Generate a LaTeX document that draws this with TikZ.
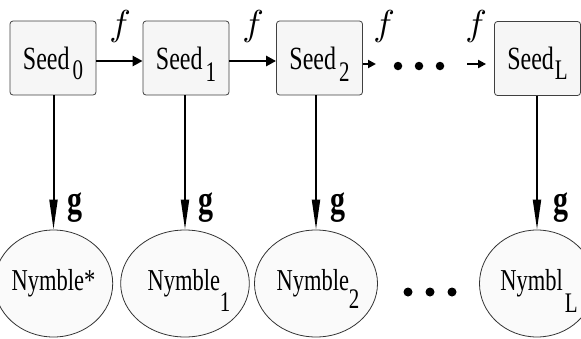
\documentclass[tikz,border=0pt]{standalone}
\usepackage{fontspec}
\setmainfont{Liberation Serif}
\usetikzlibrary{arrows.meta,shapes.geometric}
\newcommand\stt[1]{\scalebox{1}[1.35]{#1}}
\newcommand\sbs[2]{\smash{\raisebox{#1}{\fontsize{21}{21}\selectfont #2}}}
\tikzset{
  seedbox/.style={rectangle, rounded corners=3pt, draw=black!75, line width=0.8pt,
    fill=gray!7, minimum width=86pt, minimum height=74pt, inner sep=0pt,
    font=\fontsize{24}{24}\selectfont},
  nymble/.style={ellipse, draw=black!80, line width=0.8pt, fill=gray!4,
    minimum height=107pt, inner sep=0pt, font=\fontsize{22.5}{22.5}\selectfont},
  harrow/.style={line width=2.8pt, -{Triangle[length=10pt,width=10pt]}},
  sharrow/.style={line width=2.4pt, -{Triangle[length=8pt,width=8pt]}},
  varrow/.style={line width=2pt, -{Triangle[length=30pt,width=8pt]}},
  flabel/.style={inner sep=0pt},
  glabel/.style={inner sep=0pt, font=\bfseries\fontsize{30}{30}\selectfont},
  dot/.style={circle, fill=black, inner sep=0pt, minimum size=8.5pt},
}
\newcommand\ff{\scalebox{3.6}{$f$}}
\begin{document}
\begin{tikzpicture}[x=1pt,y=-1pt]
\useasboundingbox (0,0) rectangle (581,338);
% seeds
\node[seedbox] (s0) at (53,58) {\stt{Seed\kern3pt\sbs{-7.5pt}{0}}};
\node[seedbox] (s1) at (186,58) {\stt{Seed\kern3pt\sbs{-9.5pt}{1}}};
\node[seedbox] (s2) at (319.5,58) {\stt{Seed\kern3pt\sbs{-9.5pt}{2}}};
\node[seedbox] (sL) at (537.5,58.5) {\stt{Seed\kern1pt\sbs{-7.5pt}{L}}};
% nymbles
\node[nymble, minimum width=97pt] (n0) at (53.5,283.5) {\stt{Nymble*}};
\node[nymble, minimum width=90pt] (n1) at (185,283.5) {\stt{\hspace*{8pt}Nymble\sbs{-15pt}{1}}};
\node[nymble, minimum width=96pt] (n2) at (316,283.5) {\stt{\hspace*{4pt}Nymble\sbs{-13pt}{2}}};
\node[nymble, minimum width=88pt] (nL) at (537,283.5) {\stt{\hspace*{4pt}Nymbl\kern2pt\sbs{-16pt}{L}}};
% horizontal arrows
\draw[harrow] (s0.east |- 0,61) -- (s1.west |- 0,61);
\draw[harrow] (s1.east |- 0,61) -- (s2.west |- 0,61);
\coordinate (a2) at (376,64);
\coordinate (bL) at (467,64);
\draw[sharrow] (s2.east |- a2) -- (a2);
\draw[sharrow, shorten >=8pt] (bL) -- (sL.west |- bL);
\node[dot] (d1) at (398,66) {};
\node[dot] (d2) at (419,66) {};
\node[dot] (d3) at (440,66) {};
% f labels
\node[flabel] (f1) at (120,26) {\ff};
\node[flabel] (f2) at (253,26) {\ff};
\node[flabel] (f3) at (384,26) {\ff};
\node[flabel] (f4) at (476,26) {\ff};
% vertical arrows
\draw[varrow] (n0.north |- s0.south) -- (n0.north);
\draw[varrow] (n1.north |- s1.south) -- (n1.north);
\draw[varrow] (n2.north |- s2.south) -- (n2.north);
\draw[varrow] (nL.north |- sL.south) -- (nL.north);
% g labels
\node[glabel] (g0) at (75,208) {\stt{g}};
\node[glabel] (g1) at (206,208) {\stt{g}};
\node[glabel] (g2) at (338,208) {\stt{g}};
\node[glabel] (gL) at (561,208) {\stt{g}};
% bottom dots
\node[dot, minimum size=9pt] (e1) at (408,292) {};
\node[dot, minimum size=9pt] (e2) at (430,292) {};
\node[dot, minimum size=9pt] (e3) at (452,292) {};
\end{tikzpicture}
\end{document}
